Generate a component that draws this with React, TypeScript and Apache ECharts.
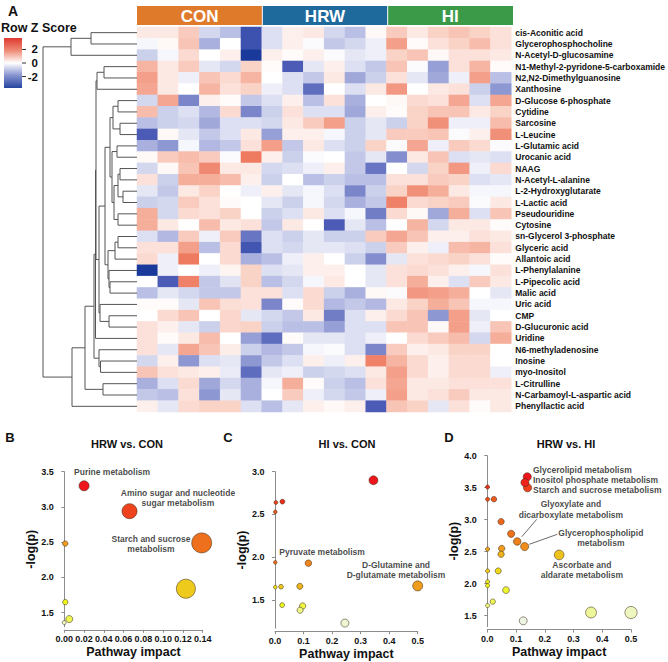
import React, { useEffect, useRef } from 'react';
import * as echarts from 'echarts';

const FONT = '"Liberation Sans", Arial, Helvetica, sans-serif';

// ---------------- Heatmap data ----------------
const metabolites = [
  'cis-Aconitic acid', 'Glycerophosphocholine', 'N-Acetyl-D-glucosamine', 'N1-Methyl-2-pyridone-5-carboxamide',
  'N2,N2-Dimethylguanosine', 'Xanthosine', 'D-Glucose 6-phosphate', 'Cytidine', 'Sarcosine', 'L-Leucine',
  'L-Glutamic acid', 'Urocanic acid', 'NAAG', 'N-Acetyl-L-alanine', 'L-2-Hydroxyglutarate', 'L-Lactic acid',
  'Pseudouridine', 'Cytosine', 'sn-Glycerol 3-phosphate', 'Glyceric acid', 'Allantoic acid', 'L-Phenylalanine',
  'L-Pipecolic acid', 'Malic acid', 'Uric acid', 'CMP', 'D-Glucuronic acid', 'Uridine', 'N6-methyladenosine',
  'Inosine', 'myo-Inositol', 'L-Citrulline', 'N-Carbamoyl-L-aspartic acid', 'Phenyllactic acid',
];

const groupNames = ['CON', 'HRW', 'HI'];

const conZ = [
  [0.3, 0.3, 0.7, -0.5, -0.8, -2.3],
  [-0.1, 0.1, 0.8, -1.0, 0, -2.3],
  [-0.6, -0.1, 0.5, 0, 0.2, -3.0],
  [1.0, 0.3, 0.7, -0.3, -0.5, 0.6],
  [1.3, 0.3, -0.2, 0.8, 0.5, 1.0],
  [1.2, 0.3, 0, 1.0, 0.4, 0.6],
  [-0.5, 1.2, -1.5, 0.2, 0.05, -0.7],
  [0.9, -0.6, -0.4, -0.9, 0.5, -1.5],
  [-0.8, -0.6, -0.5, -1.1, -0.4, -0.4],
  [-2.0, 0.1, -0.3, -0.7, -0.4, 0.3],
  [-1.0, -1.3, -0.1, -0.9, -0.7, 0.4],
  [0.1, 0.7, 0.9, 0.7, -0.05, 1.8],
  [-0.5, 0.1, 0.8, 1.6, 0.3, 0.3],
  [0.4, -0.6, 1.1, 1.1, 0.9, 0.2],
  [-0.3, -0.7, 0.3, 0.6, 0, -0.2],
  [-0.6, -0.5, 0.7, 0.4, 0.05, 0],
  [1.1, -0.5, 0.5, 0.4, 0.6, 0],
  [1.1, 0.3, 0, 0.9, 0.3, 0.4],
  [-0.4, -0.9, 0.7, -0.2, 0.7, -1.7],
  [0.4, 0.4, 1.3, -0.8, 0.5, -2.2],
  [0.5, -0.2, 1.8, 0, 0.5, -1.0],
  [-3.0, -0.2, 0, -0.2, 0.15, 0.6],
  [0, -2.0, 1.7, -0.7, -0.35, 0.6],
  [-0.8, -0.3, -0.5, -0.7, -0.7, 0.4],
  [0.05, 0.05, -0.3, 0.8, 0.45, 0.4],
  [0, 0.5, 0.8, 0, 0.55, -0.3],
  [0.4, 0.2, -0.3, -0.6, 0.55, 0.6],
  [0.4, 0.05, 0.3, 0.9, 0, -1.2],
  [0.4, -0.3, 1.2, 0.8, 0.25, -0.6],
  [-0.5, 0.2, -1.3, -0.4, -0.3, -1.3],
  [0.8, 0.4, 0.3, 0.2, -0.25, -1.8],
  [-1.0, -0.4, 0.5, -1.1, -0.5, -1.0],
  [-0.7, -0.8, 0.4, -1.3, -0.3, -1.0],
  [0.2, -0.3, 0.5, 0.6, 0.6, -0.4],
];

const hrwZ = [
  [-0.4, 0.2, 0.3, -0.5, -0.8, 0.1],
  [-0.4, 0.2, -0.05, -0.7, -0.5, -0.2],
  [0.2, 0.05, 0.2, -0.05, -0.3, -0.2],
  [0.05, -2.0, -0.3, 0.2, -0.4, -0.7],
  [0, -0.4, -0.7, 0.3, -1.1, -0.6],
  [-0.2, -0.4, -1.8, 0, -0.4, 0.3],
  [-0.4, 0.2, -0.8, 0.4, -1.0, 0],
  [-0.6, 0.4, -0.4, -0.4, -1.1, 0.2],
  [-0.5, 0.3, 0.7, 1.3, -0.6, -0.3],
  [-1.2, 0.2, 0.2, -0.1, -0.6, -0.3],
  [1.3, -0.7, 0.3, -0.4, -0.6, 0.6],
  [0.2, -0.6, -0.05, 0, -0.7, -0.3],
  [-0.5, -0.4, -0.2, 0.2, -0.7, -1.7],
  [-0.6, 0, -0.8, -0.6, -0.8, -0.8],
  [0.2, -0.3, -0.1, -0.4, -1.5, -0.6],
  [-0.3, -0.6, -0.1, -0.5, -1.0, -0.7],
  [-0.6, -0.4, 0.3, -0.4, -0.1, -1.6],
  [-0.7, 0.3, 0, -2.0, -0.3, -0.8],
  [-0.4, -0.6, -0.3, -0.6, -0.6, 0.7],
  [-0.4, -0.5, -0.3, -0.3, -0.4, -0.6],
  [-0.8, -0.2, 0.2, 0, -0.6, -1.4],
  [-0.4, -0.3, 0.2, 0.2, 0, -0.3],
  [-0.8, -0.5, -0.1, 0.3, 0, -0.3],
  [0.4, -0.4, 0.5, -0.6, -1.0, 0.1],
  [-1.5, 0.05, 0.5, -0.9, -0.7, -0.9],
  [-0.5, -0.7, 0.3, -1.6, -0.4, 0.2],
  [-0.6, -0.8, -0.8, -1.2, -0.4, -0.4],
  [-1.8, 0.05, -0.3, -0.3, -0.4, -0.2],
  [-0.9, -0.7, -0.1, -0.05, -0.4, -1.5],
  [-0.7, -0.4, 0.2, -0.2, 0.2, 1.7],
  [-0.3, -0.2, -0.6, -0.5, -0.4, 0.3],
  [-0.1, 1.1, 0.05, -0.6, -0.8, 0.4],
  [0, 0.7, -0.2, -0.5, -0.7, -0.2],
  [-0.8, -0.3, 0.2, 0.1, 0.2, -2.0],
];

const hiZ = [
  [0.7, 0.3, 0.6, 0.8, 0.6, 0.4],
  [1.3, 0.05, 0.4, 0.6, 0.9, 0.4],
  [0.6, 0.8, 0.1, 0.4, 0.4, 0.3],
  [0.8, -0.05, -1.2, 0.4, 1.0, 0.05],
  [0.4, -0.3, -1.1, -0.2, 1.3, -0.8],
  [1.4, 0, 0.3, 0.4, -0.6, -1.3],
  [0.1, 0.5, 0.4, 1.2, -0.4, 1.2],
  [0.05, 0.6, 0.8, 0.8, 0.3, 0.6],
  [-0.6, 0.6, 1.5, -0.2, -0.2, 0.9],
  [0.7, 0.7, 0.8, -0.05, 0.2, 1.5],
  [-0.05, 1.2, -0.2, 0.7, 0.5, -0.05],
  [-1.4, 0.3, 0.8, -0.4, -0.3, -0.4],
  [0, -0.5, 0.6, 1.4, -0.2, 0.5],
  [0.4, 0.4, 0.7, 0.6, -0.4, -0.3],
  [0.6, 1.5, 1.1, 0.3, -0.1, -0.1],
  [1.7, 0.5, 0.6, 0.7, -0.05, 0.3],
  [0.5, 0.1, -1.1, 1.1, -0.4, 0.8],
  [0, 1.0, -0.5, 0.3, 0.3, 0.05],
  [1.2, 0.8, 0.2, 0.2, 0.4, 0.3],
  [0.7, 0.2, -0.2, 0.9, 1.0, 0.4],
  [-0.3, 0.4, 0.5, 0.6, 0.4, 0.05],
  [0.4, 0.5, 0.4, 0.2, -0.1, 0.4],
  [0.4, 1.1, 0.2, -0.4, 0.7, 0.3],
  [-0.05, 1.4, 1.3, 1.1, 0, -0.3],
  [0.3, 0.6, 1.1, 0.8, -0.1, -0.1],
  [0.5, 0.8, -1.3, 1.3, -0.3, 0],
  [0.8, 0.8, 0.1, 1.3, -0.2, 0.8],
  [0, 0.5, 0.7, 0.9, -0.5, 1.1],
  [0.7, 0.2, 0.3, 0.6, 0.6, 0],
  [1.0, 0.5, 0.2, 0.5, 0.5, 0],
  [1.3, 0.5, 0.2, 0.5, 0.5, -0.2],
  [1.2, 0.3, 0.3, 0.4, 0.4, 0.4],
  [1.3, 0.3, 0.4, 0.7, 0.3, 0.3],
  [0.8, 0.6, -0.3, 0.4, 0.05, 0.3],
];

const zLegendTicks = [2, 0, -2];

// Row dendrogram: [height, left, right] or leaf row index
type TreeNode = number | [number, TreeNode, TreeNode];
const rowsTree: TreeNode = [94,
  [66, [46, 0, 1], 2],
  [65,
    [52,
      [43,
        [41.5,
          [41,
            [40, [33, 3, 4], 5],
            [38,
              [32,
                [27, [24, [19, 6, 7], [17, 8, 9]], [25, [20, 10, 11], [23, [19, [17, 12, 13], [14, 14, 15]], [19, 16, 17]]]],
                [29, [22, [19, 18, 19], 20], [28, 21, [27, 22, 23]]]],
              [37, 24, [28, 25, 26]]]],
          27],
        [38, 28, [36.5, 29, 30]]],
      [34, 31, 32]],
    33]];

// ---------------- Pathway panels ----------------
const bImpact = [0.020, 0.066, 0.139, 0.001, 0.123, 0.001, 0.005, 0.000];
const bLogP = [3.30, 2.94, 2.49, 2.48, 1.84, 1.65, 1.41, 1.36];

const cImpact = [0.345, 0.026, 0.003, 0.001, 0.001, 0.117, 0.500, 0.087, 0.021, 0.001, 0.025, 0.097, 0.088, 0.245];
const cLogP = [2.90, 2.65, 2.64, 2.53, 1.94, 1.93, 1.665, 1.66, 1.655, 1.65, 1.44, 1.43, 1.38, 1.23];

const dImpact = [0.139, 0.131, 0.140, 0.001, 0.001, 0.023, 0.048, 0.083, 0.104, 0.130, 0.001, 0.050,
  0.048, 0.250, 0.001, 0.038, 0.001, 0.001, 0.065, 0.019, 0.001, 0.361, 0.500, 0.125];
const dLogP = [3.67, 3.58, 3.50, 3.51, 3.32, 3.32, 2.97, 2.78, 2.66, 2.58, 2.54, 2.55,
  2.46, 2.45, 2.20, 2.20, 2.03, 1.97, 1.90, 1.72, 1.66, 1.55, 1.55, 1.42];

const bNotes = [
  { text: 'Purine metabolism', x: 0.0483, y: 3.496, align: 'center' },
  { text: 'Amino sugar and nucleotide\nsugar metabolism', x: 0.115, y: 3.127, align: 'center' },
  { text: 'Starch and sucrose\nmetabolism', x: 0.0877, y: 2.474, align: 'center' },
];
const cNotes = [
  { text: 'Arginine biosynthesis', x: 0.336, y: 3.03, align: 'center' },
  { text: 'Pyruvate metabolism', x: 0.165, y: 2.061, align: 'center' },
  { text: 'D-Glutamine and\nD-glutamate metabolism', x: 0.424, y: 1.85, align: 'center' },
];
const dNotes = [
  { text: 'Glycerolipid metabolism', x: 0.159, y: 3.777, align: 'left' },
  { text: 'Inositol phosphate metabolism', x: 0.159, y: 3.62, align: 'left' },
  { text: 'Starch and sucrose metabolism', x: 0.159, y: 3.465, align: 'left' },
  { text: 'Glyoxylate and\ndicarboxylate metabolism', x: 0.291, y: 3.159, align: 'center' },
  { text: 'Glycerophospholipid\nmetabolism', x: 0.395, y: 2.714, align: 'center' },
  { text: 'Ascorbate and\naldarate metabolism', x: 0.329, y: 2.214, align: 'center' },
];
const dLeaders = [
  [[0.120, 2.734], [0.172, 3.006]],
  [[0.146, 2.616], [0.2436, 2.772]],
];

// ---------------- helpers ----------------
function hsvToRgb(h: number, s: number, v: number) {
  const i = Math.floor(h * 6);
  const f = h * 6 - i;
  const p = v * (1 - s), q = v * (1 - f * s), t = v * (1 - (1 - f) * s);
  const m = [[v, t, p], [q, v, p], [p, v, t], [p, q, v], [t, p, v], [v, p, q]][i % 6];
  return m.map((c) => c * 255);
}
// R's heat.colors(n), slightly muted to match print colours
function heatColors(n: number) {
  const j = Math.floor(n / 4);
  const i = n - j;
  const cols: number[][] = [];
  for (let k = 0; k < i; k++) cols.push(hsvToRgb(i > 1 ? (k / (i - 1)) / 6 : 0, 1, 1));
  for (let k = 0; k < j; k++) {
    const s0 = 1 - 1 / (2 * j), s1 = 1 / (2 * j);
    const s = j > 1 ? s0 + (k * (s1 - s0)) / (j - 1) : 0.5;
    cols.push(hsvToRgb(1 / 6, s, 1));
  }
  return cols.map(([r, g, b]) =>
    `rgb(${Math.round(r * 0.9 + 8)},${Math.round(g * 0.88 + 22)},${Math.round(b * 0.85 + 28)})`);
}

function bubbleData(impact: number[], logp: number[], base: number, k: number) {
  const order = logp.map((_, i) => i).sort((a, b) => logp[b] - logp[a]);
  const cols = heatColors(logp.length);
  const colorOf: string[] = [];
  order.forEach((idx, rank) => { colorOf[idx] = cols[rank]; });
  const idxs = impact.map((_, i) => i).sort((a, b) => impact[b] - impact[a]);
  return idxs.map((i) => ({
    value: [impact[i], logp[i]],
    symbolSize: base + k * Math.sqrt(impact[i]),
    itemStyle: { color: colorOf[i] },
  }));
}

function layoutTree(node: TreeNode, out: number[][]): { y: number; h: number } {
  if (typeof node === 'number') return { y: node, h: 0 };
  const [h, l, r] = node;
  const a = layoutTree(l, out);
  const b = layoutTree(r, out);
  out.push([h, a.y, a.h, b.y, b.h]);
  return { y: (a.y + b.y) / 2, h };
}

// ---------------- layout constants ----------------
const HM = { left: 137, top: 27, width: 376, height: 385 };
const PANEL_B = { left: 64.3, top: 471.7, width: 138.4, height: 155.1 };
const PANEL_C = { left: 275, top: 471.7, width: 142.7, height: 156.5 };
const PANEL_D = { left: 487.3, top: 455.7, width: 143.7, height: 170.9 };

function scatterAxes(idx: number, xmax: number, xint: number, xdec: number, ymin: number, ymax: number, yvals: number[]) {
  const lineStyle = { color: '#8c8c8c', width: 1 };
  const x = {
    type: 'value', gridIndex: idx, min: 0, max: xmax, interval: xint, offset: 3,
    axisLine: { show: true, lineStyle }, axisTick: { show: true, length: 3, lineStyle },
    axisLabel: { fontSize: 9, fontWeight: 'bold', color: '#111', margin: 5, fontFamily: FONT,
      formatter: (v: number) => v.toFixed(xdec) },
    splitLine: { show: false },
    name: 'Pathway impact', nameLocation: 'middle', nameGap: 16,
    nameTextStyle: { fontSize: 12.5, fontWeight: 'bold', color: '#111', fontFamily: FONT },
  };
  const y = {
    type: 'value', gridIndex: idx, min: ymin, max: ymax, offset: 5.5,
    axisLine: { show: true, lineStyle },
    axisTick: { show: true, length: 3, lineStyle, customValues: yvals },
    axisLabel: { fontSize: 9, fontWeight: 'bold', color: '#111', margin: 5, fontFamily: FONT,
      customValues: yvals, formatter: (v: number) => v.toFixed(1) },
    splitLine: { show: false },
    name: '-log(p)', nameLocation: 'middle', nameGap: 21,
    nameTextStyle: { fontSize: 12.5, fontWeight: 'bold', color: '#111', fontFamily: FONT },
  };
  return { x, y };
}

function noteSeries(notes: any[], axisIdx: number) {
  return {
    type: 'scatter', xAxisIndex: axisIdx, yAxisIndex: axisIdx, silent: true, z: 10,
    symbolSize: 1, itemStyle: { color: 'rgba(0,0,0,0)' },
    data: notes.map((n) => ({
      value: [n.x, n.y], name: n.text,
      label: { align: n.align },
    })),
    label: {
      show: true, position: 'inside', formatter: (p: any) => p.name,
      fontSize: 8.5, fontWeight: 'bold', color: '#151515', lineHeight: 10.5, fontFamily: FONT,
    },
  };
}

export default function App() {
  const ref = useRef<HTMLDivElement>(null);
  useEffect(() => {
    if (!ref.current) return;
    const chart = echarts.init(ref.current, undefined, { renderer: 'svg' });

    const columns = groupNames.flatMap((g) => [1, 2, 3, 4, 5, 6].map((i) => `${g}${i}`));
    const heatData: number[][] = [];
    [conZ, hrwZ, hiZ].forEach((mat, gi) => {
      mat.forEach((row, ri) => row.forEach((v, ci) => heatData.push([gi * 6 + ci, ri, v])));
    });
    const links: number[][] = [];
    layoutTree(rowsTree, links);

    const aB = scatterAxes(2, 0.14, 0.02, 2, 1.3, 3.5, [1.5, 2, 2.5, 3, 3.5]);
    const aC = scatterAxes(3, 0.5, 0.1, 1, 1.17, 3.0, [1.5, 2, 2.5, 3]);
    const aD = scatterAxes(4, 0.5, 0.1, 1, 1.33, 4.0, [1.5, 2, 2.5, 3, 3.5, 4]);

    const gw = HM.width / 3;
    const headerColors = ['#e07a2b', '#1f6a9c', '#3a9a48'];
    const graphics: any[] = [];
    groupNames.forEach((g, i) => {
      graphics.push({
        type: 'rect', shape: { x: HM.left + i * gw + (i ? 0.5 : 0), y: 6, width: gw - (i ? 0.5 : 0) - (i < 2 ? 0.5 : 0), height: 19 },
        style: { fill: headerColors[i] },
      });
      graphics.push({
        type: 'text', x: HM.left + i * gw + gw / 2, y: 16,
        style: { text: g, fill: '#fff', font: `bold 17px ${FONT}`, align: 'center', verticalAlign: 'middle', textAlign: 'center', textVerticalAlign: 'middle' },
      });
    });
    const txt = (text: string, x: number, y: number, size: number, align = 'center') => ({
      type: 'text', x, y,
      style: { text, fill: '#111', font: `bold ${size}px ${FONT}`, align, verticalAlign: 'middle', textAlign: align, textVerticalAlign: 'middle' },
    });
    graphics.push(txt('A', 13, 11, 14));
    graphics.push(txt('Row Z Score', 1, 28, 12.5, 'left'));
    const lg = { x: 4, y: 38, w: 18, h: 50, range: 3.7 };
    graphics.push({
      type: 'rect', shape: { x: lg.x, y: lg.y, width: lg.w, height: lg.h },
      style: { fill: new echarts.graphic.LinearGradient(0, 0, 0, 1, [
        { offset: 0, color: '#e0392f' }, { offset: 0.25, color: '#ee8b76' }, { offset: 0.5, color: '#ffffff' },
        { offset: 0.75, color: '#8592cf' }, { offset: 1, color: '#25449f' }]) },
    });
    zLegendTicks.forEach((t) => {
      const yy = lg.y + lg.h / 2 - (t / lg.range) * (lg.h / 2);
      graphics.push({ type: 'line', shape: { x1: lg.x + lg.w, y1: yy, x2: lg.x + lg.w + 4, y2: yy }, style: { stroke: '#333', lineWidth: 1 } });
      graphics.push(txt(String(t), 38, yy, 11.5, 'right'));
    });
    graphics.push(txt('B', 10, 437, 13));
    graphics.push(txt('C', 228, 437, 13));
    graphics.push(txt('D', 449, 437, 13));
    graphics.push(txt('HRW vs. CON', 127, 444, 11));
    graphics.push(txt('HI vs. CON', 347, 444, 11));
    graphics.push(txt('HRW vs. HI', 566, 444, 11));

    const option: any = {
      animation: false,
      backgroundColor: '#ffffff',
      textStyle: { fontFamily: FONT },
      grid: [
        { ...HM, containLabel: false },
        { left: 37, top: HM.top, width: 100, height: HM.height },
        PANEL_B, PANEL_C, PANEL_D,
      ],
      xAxis: [
        { type: 'category', gridIndex: 0, data: columns, show: false },
        { type: 'value', gridIndex: 1, min: 0, max: 100, inverse: true, show: false },
        aB.x, aC.x, aD.x,
      ],
      yAxis: [
        {
          type: 'category', gridIndex: 0, data: metabolites, inverse: true, position: 'right',
          axisLine: { show: false }, axisTick: { show: false },
          axisLabel: { interval: 0, fontSize: 8.5, fontWeight: 'bold', color: '#111', margin: 4, fontFamily: FONT },
        },
        { type: 'value', gridIndex: 1, min: -0.5, max: metabolites.length - 0.5, inverse: true, show: false },
        aB.y, aC.y, aD.y,
      ],
      visualMap: [{
        type: 'continuous', show: false, seriesIndex: 0, dimension: 2, min: -3, max: 3,
        inRange: { color: ['#1a3a9b', '#4c5cb6', '#a9b0de', '#ffffff', '#f6b5a2', '#ec6b50', '#e03a2c'] },
      }],
      series: [
        { type: 'heatmap', xAxisIndex: 0, yAxisIndex: 0, data: heatData, itemStyle: { borderWidth: 0 } },
        {
          type: 'custom', xAxisIndex: 1, yAxisIndex: 1, data: links, silent: true,
          encode: { x: [0, 2, 4], y: [1, 3] },
          renderItem: (_p: any, api: any) => {
            const h = api.value(0), yl = api.value(1), hl = api.value(2), yr = api.value(3), hr = api.value(4);
            return {
              type: 'polyline',
              shape: { points: [api.coord([hl, yl]), api.coord([h, yl]), api.coord([h, yr]), api.coord([hr, yr])] },
              style: { stroke: '#555', lineWidth: 1, fill: null },
            };
          },
        },
        {
          type: 'scatter', xAxisIndex: 2, yAxisIndex: 2, data: bubbleData(bImpact, bLogP, 4, 43),
          itemStyle: { borderColor: 'rgba(60,40,20,0.75)', borderWidth: 0.7, opacity: 1 },
        },
        {
          type: 'scatter', xAxisIndex: 3, yAxisIndex: 3, data: bubbleData(cImpact, cLogP, 3.3, 9.5),
          itemStyle: { borderColor: 'rgba(60,40,20,0.75)', borderWidth: 0.7, opacity: 1 },
        },
        {
          type: 'scatter', xAxisIndex: 4, yAxisIndex: 4, data: bubbleData(dImpact, dLogP, 3.7, 12),
          itemStyle: { borderColor: 'rgba(60,40,20,0.75)', borderWidth: 0.7, opacity: 1 },
          markLine: {
            silent: true, symbol: ['none', 'none'], label: { show: false },
            lineStyle: { color: '#444', width: 0.8, type: 'solid' },
            data: dLeaders.map(([a, b]) => [{ coord: a }, { coord: b }]),
          },
        },
        noteSeries(bNotes, 2),
        noteSeries(cNotes, 3),
        noteSeries(dNotes, 4),
      ],
      graphic: graphics,
    };
    chart.setOption(option);
    return () => chart.dispose();
  }, []);

  return <div ref={ref} style={{ position: 'fixed', left: 0, top: 0, width: 668, height: 662, background: '#fff' }} />;
}
